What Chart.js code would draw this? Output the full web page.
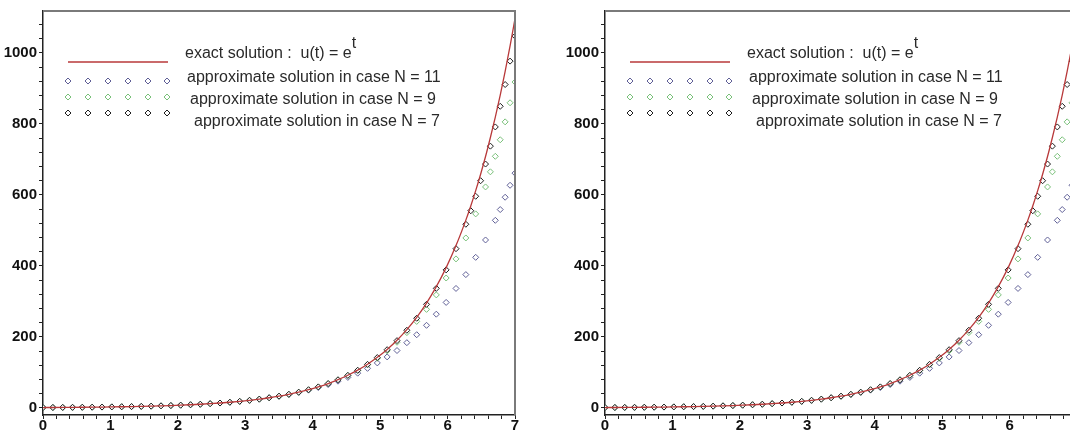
<!DOCTYPE html>
<html>
<head>
<meta charset="utf-8">
<script src="https://cdn.jsdelivr.net/npm/chart.js@4/dist/chart.umd.min.js"></script>
<style>
  html, body { margin: 0; padding: 0; background: #fff; }
  body { width: 1070px; height: 435px; overflow: hidden; position: relative; }
  .panel { position: absolute; top: 0; width: 540px; height: 435px; }
  .panel canvas { position: absolute; left: 0; top: 0; }
  .lg { position: absolute; font: 16px "Liberation Sans", Arial, sans-serif; color: #2a2a2a; white-space: nowrap; line-height: 18px; }
  .lg sup { font-size: 16px; vertical-align: 0; position: relative; top: -10px; }
</style>
</head>
<body>
<div class="panel" style="left:0"><canvas id="c1" width="540" height="435"></canvas></div>
<div class="panel" style="left:562px"><canvas id="c2" width="540" height="435"></canvas></div>
<script>
/* ── data ────────────────────────────────────────────────────────── */
// exact solution u(t) = e^t (and the N = 7 points share this grid)
const tExact = [0, 0.146, 0.292, 0.438, 0.583, 0.729, 0.875, 1.021, 1.167, 1.313, 1.458, 1.604, 1.75, 1.896,
  2.042, 2.188, 2.333, 2.479, 2.625, 2.771, 2.917, 3.063, 3.208, 3.354, 3.5, 3.646, 3.792, 3.938, 4.083, 4.229,
  4.375, 4.521, 4.667, 4.813, 4.958, 5.104, 5.25, 5.396, 5.542, 5.688, 5.833, 5.979, 6.125, 6.271,
  6.344, 6.417, 6.49, 6.563, 6.635, 6.708, 6.781, 6.854, 6.927, 7];
const uExact = [1, 1.157, 1.339, 1.549, 1.792, 2.073, 2.399, 2.776, 3.211, 3.716, 4.299, 4.974, 5.755, 6.658,
  7.703, 8.913, 10.31, 11.93, 13.8, 15.97, 18.48, 21.38, 24.74, 28.62, 33.12, 38.31, 44.33, 51.29, 59.34, 68.66,
  79.44, 91.91, 106.3, 123, 142.4, 164.7, 190.6, 220.5, 255.1, 295.2, 341.5, 395.1, 457.2, 528.9,
  568.9, 612, 658.3, 708.1, 761.7, 819.3, 881.3, 947.9, 1019.6, 1096.6];

// approximate solution, N = 7 (black diamonds, on the curve)
const tN7 = tExact;
const uN7 = [1, 1.16, 1.34, 1.55, 1.79, 2.07, 2.4, 2.78, 3.21, 3.72, 4.3, 4.97, 5.75, 6.66,
  7.7, 8.91, 10.3, 11.9, 13.8, 16, 18.5, 21.4, 24.7, 28.6, 33.1, 38.3, 44.3, 51.2, 59.2, 68.5,
  79.2, 91.6, 106, 122.6, 141.8, 164, 189.5, 218.7, 252.5, 291.7, 336.7, 388.8, 448.5, 517.3,
  555.3, 596.1, 639.9, 686.9, 737.3, 791.4, 849.6, 910.9, 976.8, 1047.3];

// approximate solution, N = 9 (green diamonds)
const tN9 = [0, 0.146, 0.292, 0.438, 0.583, 0.729, 0.875, 1.021, 1.167, 1.313, 1.458, 1.604, 1.75, 1.896,
  2.042, 2.188, 2.333, 2.479, 2.625, 2.771, 2.917, 3.063, 3.208, 3.354, 3.5, 3.646, 3.792, 3.938, 4.083, 4.229,
  4.375, 4.521, 4.667, 4.813, 4.958, 5.104, 5.25, 5.396, 5.542, 5.688, 5.833, 5.979, 6.125, 6.271, 6.417, 6.563,
  6.635, 6.708, 6.781, 6.854, 6.927, 7];
const uN9 = [1, 1.16, 1.34, 1.55, 1.79, 2.07, 2.4, 2.77, 3.2, 3.71, 4.29, 4.96, 5.74, 6.64,
  7.68, 8.88, 10.3, 11.9, 13.7, 15.9, 18.4, 21.3, 24.6, 28.5, 32.9, 38.1, 44, 50.9, 58.9, 68.5,
  79, 91.3, 105.2, 121.3, 139.8, 160.7, 184.9, 212.1, 243.6, 277.5, 318.3, 365.9, 419.7, 478.7, 546.5, 622.4,
  665, 708.7, 755.3, 805.7, 859.5, 917.9];

// approximate solution, N = 11 (blue-grey diamonds, furthest from the curve)
const tN11 = [0, 0.146, 0.292, 0.438, 0.583, 0.729, 0.875, 1.021, 1.167, 1.313, 1.458, 1.604, 1.75, 1.896,
  2.042, 2.188, 2.333, 2.479, 2.625, 2.771, 2.917, 3.063, 3.208, 3.354, 3.5, 3.646, 3.792, 3.938, 4.083, 4.229,
  4.375, 4.521, 4.667, 4.813, 4.958, 5.104, 5.25, 5.396, 5.542, 5.688, 5.833, 5.979, 6.125, 6.271, 6.417, 6.563,
  6.708, 6.781, 6.854, 6.927, 7];
const uN11 = [1, 1.16, 1.34, 1.55, 1.79, 2.07, 2.39, 2.77, 3.2, 3.7, 4.28, 4.95, 5.72, 6.62,
  7.65, 8.85, 10.2, 11.8, 13.7, 15.8, 18.3, 21.1, 24.6, 28.4, 32.8, 37.8, 43.5, 50, 57.4, 65.8,
  75.3, 85.9, 97.8, 111.4, 126.7, 143.6, 161.6, 183.7, 206.1, 232.6, 264, 297.1, 336.5, 375.5, 424.1, 473,
  528.4, 558.7, 593.4, 627.1, 661.3];

// axis ticks: minor every 0.2 / 40, labels on integers / multiples of 200
const xTicks = [];
for (let k = 0; k <= 35; k++) xTicks.push(Math.round(k * 2) / 10);
const yTicks = [];
for (let k = 0; k <= 27; k++) yTicks.push(k * 40);
const yLabelled = [0, 200, 400, 600, 800, 1000];

const COLORS = { exact: '#b8393a', n7: '#1e1e1e', n9: '#79c079', n11: '#5f5f96' };
const TICK_FONT = { family: "'Liberation Sans Narrow', 'Arial Narrow', 'Liberation Sans', sans-serif", size: 15, weight: 'bold' };

const toXY = (ts, us) => ts.map((t, i) => ({ x: t, y: us[i] }));

/* frame (top + right) and the legend samples */
const framePlugin = {
  id: 'frame',
  afterDraw(chart) {
    const { ctx, chartArea: a } = chart;
    ctx.save();
    ctx.strokeStyle = '#7a7a7a';
    ctx.lineWidth = 2;
    ctx.beginPath();
    ctx.moveTo(a.left, a.top);
    ctx.lineTo(a.right, a.top);
    ctx.lineTo(a.right, a.bottom);
    ctx.stroke();

    // legend sample line
    ctx.strokeStyle = COLORS.exact;
    ctx.lineWidth = 1.5;
    ctx.beginPath();
    ctx.moveTo(68, 62);
    ctx.lineTo(168, 62);
    ctx.stroke();

    // legend sample diamonds
    const rows = [[81, COLORS.n11], [97, COLORS.n9], [113, COLORS.n7]];
    rows.forEach(([y, col]) => {
      [68, 88, 108, 128, 148, 167].forEach(x => {
        ctx.fillStyle = '#fff';
        ctx.strokeStyle = col;
        ctx.lineWidth = 1;
        Chart.helpers.drawPoint(ctx, { pointStyle: 'rectRot', radius: 3, rotation: 0, borderWidth: 1 }, x, y);
      });
    });
    ctx.restore();
  }
};

function pointSet(label, ts, us, color, order) {
  return {
    label, data: toXY(ts, us), order,
    showLine: false, pointStyle: 'rectRot', pointRadius: 3,
    borderColor: color, backgroundColor: '#fff', borderWidth: 1
  };
}

function makeChart(id) {
  return new Chart(document.getElementById(id), {
    type: 'scatter',
    data: {
      datasets: [
        {
          label: 'exact solution', data: toXY(tExact, uExact), order: 0,
          showLine: true, pointRadius: 0, borderColor: COLORS.exact, borderWidth: 1.3,
          cubicInterpolationMode: 'monotone'
        },
        pointSet('N = 7', tN7, uN7, COLORS.n7, 1),
        pointSet('N = 9', tN9, uN9, COLORS.n9, 2),
        pointSet('N = 11', tN11, uN11, COLORS.n11, 3)
      ]
    },
    options: {
      responsive: false,
      animation: false,
      layout: { padding: { top: 10, right: 25, left: 0, bottom: 0 } },
      plugins: { legend: { display: false }, tooltip: { enabled: false } },
      scales: {
        x: {
          type: 'linear', min: 0, max: 7,
          afterBuildTicks: s => { s.ticks = xTicks.map(v => ({ value: v })); },
          afterFit: s => { s.height = 20; },
          ticks: {
            autoSkip: false, maxRotation: 0, padding: -2, color: '#111', font: TICK_FONT,
            callback: v => Math.abs(v - Math.round(v)) < 1e-6 ? String(Math.round(v)) : ''
          },
          grid: { drawOnChartArea: false, tickLength: 4, color: '#222' },
          border: { color: '#222', width: 1.5 }
        },
        y: {
          type: 'linear', min: -20, max: 1118,
          afterBuildTicks: s => { s.ticks = yTicks.map(v => ({ value: v })); },
          afterFit: s => { s.width = 43; },
          ticks: {
            autoSkip: false, padding: 2, color: '#111', font: TICK_FONT,
            callback: v => yLabelled.includes(v) ? String(v) : ''
          },
          grid: { drawOnChartArea: false, tickLength: 4, color: '#222' },
          border: { color: '#222', width: 1.5 }
        }
      }
    },
    plugins: [framePlugin]
  });
}

function addLegendText(panel) {
  const rows = [
    { left: 185, top: 44, html: 'exact solution :&nbsp; u(t) = e<sup>t</sup>' },
    { left: 187, top: 68, html: 'approximate solution in case N = 11' },
    { left: 190, top: 90, html: 'approximate solution in case N = 9' },
    { left: 194, top: 112, html: 'approximate solution in case N = 7' }
  ];
  rows.forEach(r => {
    const el = document.createElement('div');
    el.className = 'lg';
    el.style.left = r.left + 'px';
    el.style.top = r.top + 'px';
    el.innerHTML = r.html;
    panel.appendChild(el);
  });
}

makeChart('c1');
makeChart('c2');
document.querySelectorAll('.panel').forEach(addLegendText);
</script>
</body>
</html>
